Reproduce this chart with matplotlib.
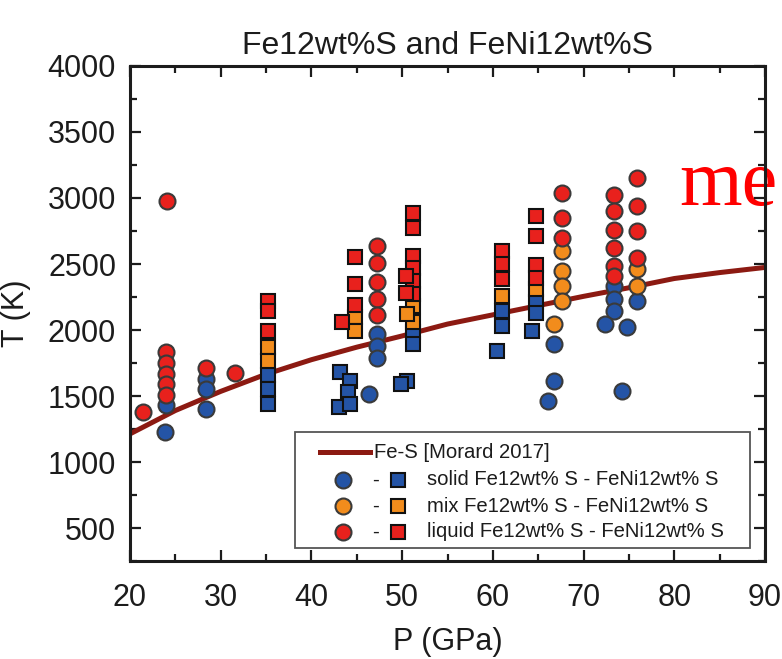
import matplotlib
matplotlib.use("Agg")
import matplotlib.pyplot as plt
from matplotlib.patches import Rectangle
from matplotlib.ticker import MultipleLocator

plt.rcParams['font.family'] = ['Liberation Sans', 'DejaVu Sans']

# Fe12wt%S runs (circles): pressure in GPa, temperature in K
fe_solid_P = [24.0, 23.9, 28.4, 28.4, 28.4, 47.2, 47.2, 47.2, 46.3,
              66.7, 66.7, 66.1, 73.3, 73.3, 73.3, 72.4, 75.9, 74.8, 74.2]
fe_solid_T = [1430, 1230, 1628, 1553, 1402, 1973, 1880, 1785, 1515,
              1893, 1616, 1464, 2333, 2233, 2144, 2044, 2220, 2019, 1540]

fe_mix_P = [67.6, 67.6, 67.6, 67.6, 66.7, 75.9, 75.9]
fe_mix_T = [2597, 2446, 2333, 2220, 2044, 2459, 2333]

fe_liquid_P = [21.4, 24.1, 24.0, 24.0, 24.0, 24.0, 24.0, 28.4, 31.6,
               47.2, 47.2, 47.2, 47.2, 47.2, 67.6, 67.6, 67.6,
               73.3, 73.3, 73.3, 73.3, 73.3, 73.3, 75.9, 75.9, 75.9, 75.9]
fe_liquid_T = [1377, 2975, 1830, 1750, 1670, 1590, 1510, 1709, 1674,
               2640, 2510, 2363, 2233, 2112, 3039, 2850, 2699,
               3026, 2900, 2761, 2623, 2484, 2409, 3152, 2937, 2748, 2548]

# FeNi12wt%S runs (squares)
feni_solid_P = [35.25, 35.25, 35.25, 43.2, 44.3, 44.0, 43.0, 44.3,
                51.2, 51.2, 50.5, 49.9, 61.0, 61.0, 60.5, 64.8, 64.8, 64.3]
feni_solid_T = [1660, 1553, 1440, 1680, 1615, 1530, 1420, 1440,
                1983, 1893, 1616, 1591, 2144, 2031, 1842, 2212, 2127, 1993]

feni_mix_P = [35.25, 35.25, 44.8, 44.8, 51.2, 51.2, 50.5, 61.0, 64.8]
feni_mix_T = [1868, 1767, 2100, 1995, 2182, 2057, 2120, 2258, 2308]

feni_liquid_P = [35.25, 35.25, 35.25, 44.8, 44.8, 44.8, 43.4,
                 51.2, 51.2, 51.2, 51.2, 51.2, 51.2, 50.4, 50.4,
                 61.0, 61.0, 61.0, 64.8, 64.8, 64.8, 64.8]
feni_liquid_T = [2220, 2144, 1993, 2552, 2346, 2190, 2057,
                 2887, 2774, 2560, 2472, 2371, 2270, 2409, 2283,
                 2597, 2497, 2384, 2862, 2711, 2489, 2397]

# Fe-S melting curve [Morard 2017]
curve_P = [20, 25, 30, 35, 40, 45, 50, 55, 60, 65, 70, 75, 80, 85, 90]
curve_T = [1213, 1390, 1535, 1665, 1775, 1870, 1955, 2045, 2115, 2185,
           2255, 2320, 2390, 2435, 2474]

BLUE = '#2454a6'
ORANGE = '#f28c1c'
RED = '#e8211d'
CURVE = '#8c1a12'
INK = '#1c1c1c'

fig = plt.figure(figsize=(7.82, 6.59), dpi=100)
ax = fig.add_axes([130 / 782, 1 - 561 / 659, 635 / 782, 495 / 659])

ax.plot(curve_P, curve_T, color=CURVE, lw=3.6, zorder=2, solid_capstyle='butt')

circ = dict(marker='o', ms=11.5, mec='#3a3a3a', mew=1.5, ls='none', zorder=3)
sq = dict(marker='s', ms=10.5, mec='#111111', mew=1.5, ls='none', zorder=3)

ax.plot(fe_solid_P, fe_solid_T, mfc=BLUE, **circ)
ax.plot(fe_mix_P, fe_mix_T, mfc=ORANGE, **circ)
ax.plot(fe_liquid_P, fe_liquid_T, mfc=RED, **circ)
ax.plot(feni_solid_P, feni_solid_T, mfc=BLUE, **sq)
ax.plot(feni_mix_P, feni_mix_T, mfc=ORANGE, **sq)
ax.plot(feni_liquid_P, feni_liquid_T, mfc=RED, **sq)

ax.set_xlim(20, 90)
ax.set_ylim(250, 4000)
ax.xaxis.set_major_locator(MultipleLocator(10))
ax.xaxis.set_minor_locator(MultipleLocator(5))
ax.yaxis.set_minor_locator(MultipleLocator(250))
ax.set_yticks([500, 1000, 1500, 2000, 2500, 3000, 3500, 4000])
ax.tick_params(which='both', direction='in', top=True, right=True, width=1.6,
               labelsize=22, colors=INK)
ax.tick_params(which='major', length=8)
ax.tick_params(which='minor', length=5)
ax.tick_params(axis='x', which='major', pad=16)
ax.tick_params(axis='y', which='major', pad=10)
for s in ax.spines.values():
    s.set_linewidth(2.2)
    s.set_color(INK)

ax.set_xlabel('P (GPa)', fontsize=22, color=INK, labelpad=10)
ax.set_ylabel('T (K)', fontsize=22, color=INK, labelpad=12)
ax.set_title('Fe12wt%S and FeNi12wt%S', fontsize=23, color=INK, pad=9)

# legend panel
ax.add_patch(Rectangle((0.26, 0.0257), 0.716, 0.235, transform=ax.transAxes,
                       fc='white', ec='#555555', lw=1.3, zorder=5))
ax.plot([0.299, 0.378], [0.22, 0.22], transform=ax.transAxes, color=CURVE,
        lw=3.6, zorder=6, clip_on=False)
ax.text(0.384, 0.22, 'Fe-S [Morard 2017]', transform=ax.transAxes,
        fontsize=14.6, va='center', ha='left', color=INK, zorder=6)
rows = [(0.164, BLUE, 'solid Fe12wt% S - FeNi12wt% S'),
        (0.111, ORANGE, 'mix Fe12wt% S - FeNi12wt% S'),
        (0.059, RED, 'liquid Fe12wt% S - FeNi12wt% S')]
for yy, col, lab in rows:
    ax.plot([0.336], [yy], transform=ax.transAxes, marker='o', ms=11.5,
            mfc=col, mec='#3a3a3a', mew=1.5, zorder=6, clip_on=False)
    ax.text(0.386, yy, '-', transform=ax.transAxes, fontsize=14.6,
            va='center', ha='center', color=INK, zorder=6)
    ax.plot([0.422], [yy], transform=ax.transAxes, marker='s', ms=10.5,
            mfc=col, mec='#111111', mew=1.5, zorder=6, clip_on=False)
    ax.text(0.467, yy, lab, transform=ax.transAxes, fontsize=14.6,
            va='center', ha='left', color=INK, zorder=6)

ax.text(679 / 782, 1 - 205 / 659, 'me', transform=fig.transFigure,
        fontsize=58, color='red', family=['Liberation Serif', 'DejaVu Serif'],
        ha='left', va='baseline', zorder=1, clip_on=False)

fig.savefig('out.png', dpi=100)
